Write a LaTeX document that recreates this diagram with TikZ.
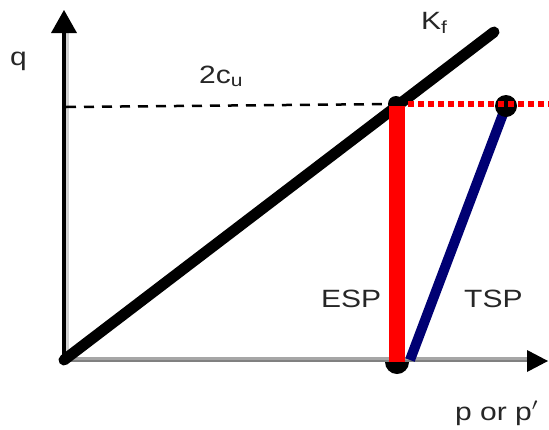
\documentclass[tikz,border=0pt]{standalone}
\usepackage{fontspec}
\setmainfont{Liberation Sans}
\usetikzlibrary{arrows.meta}
\newcommand\widetxt[1]{\scalebox{1.2}[1]{#1}}
\begin{document}
\begin{tikzpicture}[x=1pt,y=-1pt,
  lbl/.style={font=\fontsize{25}{30}\selectfont, inner sep=0pt, text=black!85, anchor=base west},
  dotc/.style={circle, fill=black, inner sep=0pt}]
\useasboundingbox (0,0) rectangle (549,429);
% coordinates
\coordinate (O) at (64,360);
\coordinate (Ytop) at (64,10);
\coordinate (Xend) at (548,361);
\coordinate (K) at (494,32);
\coordinate (F) at (396,104);
\coordinate (Rtop) at (397,106);
\coordinate (B) at (397,362);
\coordinate (T) at (506,106);
\coordinate (Tb) at (410,360);
\coordinate (Dl) at (66,107);
\coordinate (Dr) at (549,104);
% axes
\draw[line width=3pt, gray!35!white] (67.5,360) -- (67.5,32);
\draw[line width=4pt, black] (O) -- (64,30);
\fill (Ytop) -- (51,33) -- (77,33) -- cycle;
\draw[line width=2.5pt, gray!70!white] (O) ++(0,-1.5) -- (528,358.5);
\draw[line width=2.5pt, gray] (O) ++(0,1) -- (528,361);
\fill (Xend) -- (527,350) -- (527,372) -- cycle;
% dashed
\draw[line width=2.5pt, dash pattern=on 10pt off 8pt] (Dl) -- (F);
% Kf line
\draw[line width=11pt, line cap=round] (O) -- (K);
% top point dot
\node[dotc, minimum size=16pt] (pf) at (F) {};
% TSP
\draw[line width=10pt, blue!45!black] (Tb) -- (T);
\node[dotc, minimum size=22pt] (pt) at (T) {};
% ESP
\begin{scope}
\clip (370,362) rectangle (430,380);
\node[dotc, minimum size=24pt] (pb) at (B) {};
\end{scope}
\draw[line width=16pt, red] (Rtop) -- (B);
% red dotted
\draw[line width=6pt, red, dash pattern=on 6pt off 4pt] (408,104) -- (Dr);
% labels
\node[lbl] (q) at (10,65) {\widetxt{q}};
\node[lbl] (cu) at (199,83) {\widetxt{2c\textsubscript{u}}};
\node[lbl] (kf) at (421,29) {\widetxt{K\textsubscript{f}}};
\node[lbl] (esp) at (321,307) {\widetxt{ESP}};
\node[lbl] (tsp) at (464,307) {\widetxt{TSP}};
\node[lbl] (pp) at (455,420) {\widetxt{p or p$'$}};
\end{tikzpicture}
\end{document}
